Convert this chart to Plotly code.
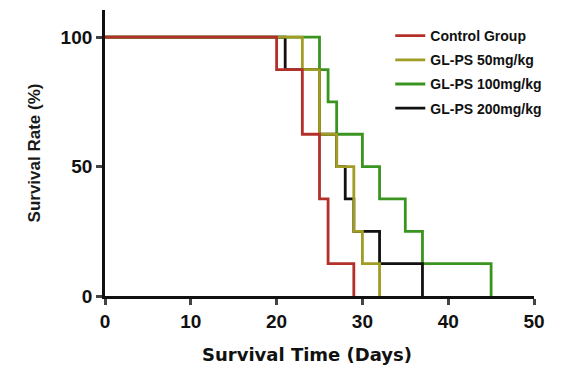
import plotly.graph_objects as go

# Data (Kaplan-Meier steps, 8 subjects per group)
ctrl_days = [0, 20, 23, 25, 26, 29]
ctrl_surv = [100, 87.5, 62.5, 37.5, 12.5, 0]
gl50_days = [0, 23, 25, 27, 29, 30, 32]
gl50_surv = [100, 87.5, 62.5, 50, 25, 12.5, 0]
gl100_days = [0, 25, 26, 27, 30, 32, 35, 37, 45]
gl100_surv = [100, 87.5, 75, 62.5, 50, 37.5, 25, 12.5, 0]
gl200_days = [0, 21, 25, 27, 28, 29, 32, 37]
gl200_surv = [100, 87.5, 62.5, 50, 37.5, 25, 12.5, 0]

series_names = ["Control Group", "GL-PS 50mg/kg", "GL-PS 100mg/kg", "GL-PS 200mg/kg"]
x_ticks = [0, 10, 20, 30, 40, 50]
y_ticks = [0, 50, 100]

colors = {"ctrl": "#B3302A", "gl50": "#A09C24", "gl100": "#3A9520", "gl200": "#111111"}

fig = go.Figure()
# draw order: green bottom, black, olive, red on top
traces = [
    (gl100_days, gl100_surv, series_names[2], colors["gl100"], 3),
    (gl200_days, gl200_surv, series_names[3], colors["gl200"], 4),
    (gl50_days, gl50_surv, series_names[1], colors["gl50"], 2),
    (ctrl_days, ctrl_surv, series_names[0], colors["ctrl"], 1),
]
for xs, ys, name, c, rank in traces:
    fig.add_trace(go.Scatter(x=xs, y=ys, mode="lines", name=name,
                             line=dict(color=c, width=2.8, shape="hv"),
                             legendrank=rank, legendgroup=name))

tick_font = dict(family="Liberation Sans, Arial", size=19, color="#111111", weight="bold")
fig.update_layout(
    width=564, height=369,
    margin=dict(l=97, r=38, t=2, b=81),
    paper_bgcolor="white", plot_bgcolor="white",
    showlegend=True,
    legend=dict(x=0.665, y=0.965, xanchor="left", yanchor="top",
                font=dict(family="Liberation Sans, Arial", size=14, color="#111111", weight="bold"),
                bgcolor="rgba(0,0,0,0)", tracegroupgap=3, itemwidth=30),
    xaxis=dict(range=[0, 50], tickvals=x_ticks, ticks="outside", ticklen=6, tickwidth=2.5,
               showline=True, linecolor="#111111", linewidth=2.8, showgrid=False, zeroline=False,
               tickfont=tick_font),
    yaxis=dict(range=[0, 110.5], tickvals=y_ticks, ticks="outside", ticklen=6, tickwidth=2.5,
               showline=True, linecolor="#111111", linewidth=2.8, showgrid=False, zeroline=False,
               tickfont=tick_font,
               title=dict(text="<b>Survival Rate (%)</b>",
                          font=dict(family="Liberation Sans, Arial", size=17, color="#1a1a1a"),
                          standoff=16)),
    annotations=[dict(text="<b>Survival Time (Days)</b>", xref="paper", yref="paper",
                      x=0.47, y=-0.205, xanchor="center", yanchor="middle", showarrow=False,
                      font=dict(family="DejaVu Sans, Verdana", size=18, color="#111111"))],
)
fig.write_html("out.html")
